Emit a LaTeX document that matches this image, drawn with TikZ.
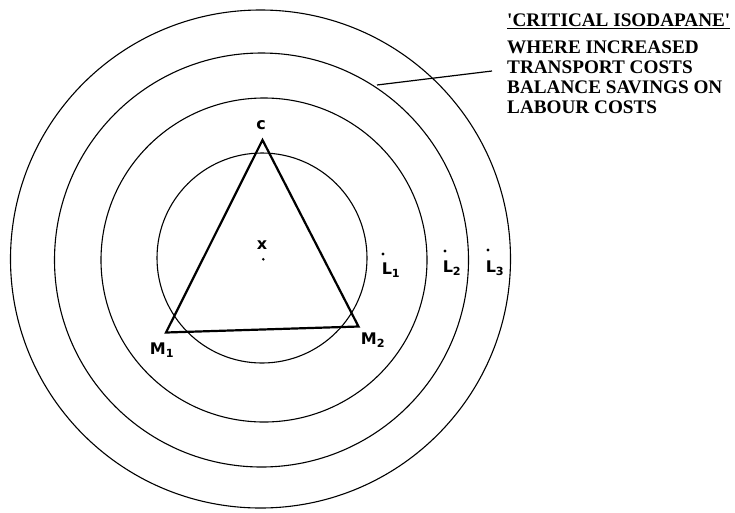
\documentclass[tikz,border=0pt]{standalone}
\usepackage{fontspec}
\newfontfamily\notefont{Liberation Serif}
\setsansfont{DejaVu Sans}
\begin{document}
\begin{tikzpicture}[x=1pt,y=-1pt,
  iso/.style={draw=black,line width=1.1pt},
  tri/.style={draw=black,line width=2.2pt,line join=miter},
  hand/.style={font=\sffamily\bfseries\fontsize{16}{16}\selectfont,inner sep=0pt},
  loc/.style={circle,fill=black,inner sep=0pt,minimum size=3.2pt},
  note/.style={font=\notefont\bfseries\fontsize{19.2}{19.8}\selectfont,align=left,anchor=north west,inner sep=0pt}]
\useasboundingbox (0,0) rectangle (735,512);
% isodapanes
\draw[iso] (260.5,259) ellipse [x radius=250,y radius=249];
\draw[iso] (261.5,260) ellipse [x radius=207,y radius=207];
\draw[iso] (264,260) ellipse [x radius=163,y radius=162];
\draw[iso] (262,258) ellipse [x radius=105,y radius=105];
% triangle
\coordinate (C) at (262.5,140);
\coordinate (M1) at (166,332.5);
\coordinate (M2) at (358.5,326.5);
\draw[tri] (C) -- (M2) -- (M1) -- cycle;
\node[hand] (lC) at (261,125) {c};
\node[hand] (lM1) at (162,350) {M\textsubscript{1}};
\node[hand] (lM2) at (373,340) {M\textsubscript{2}};
% centre
\node[hand] (xm) at (262,245) {x};
\node[loc,minimum size=2.8pt] (xd) at (263.3,259.3) {};
% labour locations
\node[loc] (d1) at (383,254) {};
\node[hand] (L1) at (391,270) {L\textsubscript{1}};
\node[loc] (d2) at (445,251) {};
\node[hand] (L2) at (452,268) {L\textsubscript{2}};
\node[loc] (d3) at (488,250) {};
\node[hand] (L3) at (495,268) {L\textsubscript{3}};
% annotation
\node[note] (txt) at (507,14) {\underline{'CRITICAL ISODAPANE'}\\[7pt]WHERE INCREASED\\TRANSPORT COSTS\\BALANCE SAVINGS ON\\LABOUR COSTS};
\coordinate (p) at (377,85);
\coordinate (q) at (492,71);
\draw[line width=1.2pt] (p) -- (q);
\end{tikzpicture}
\end{document}
